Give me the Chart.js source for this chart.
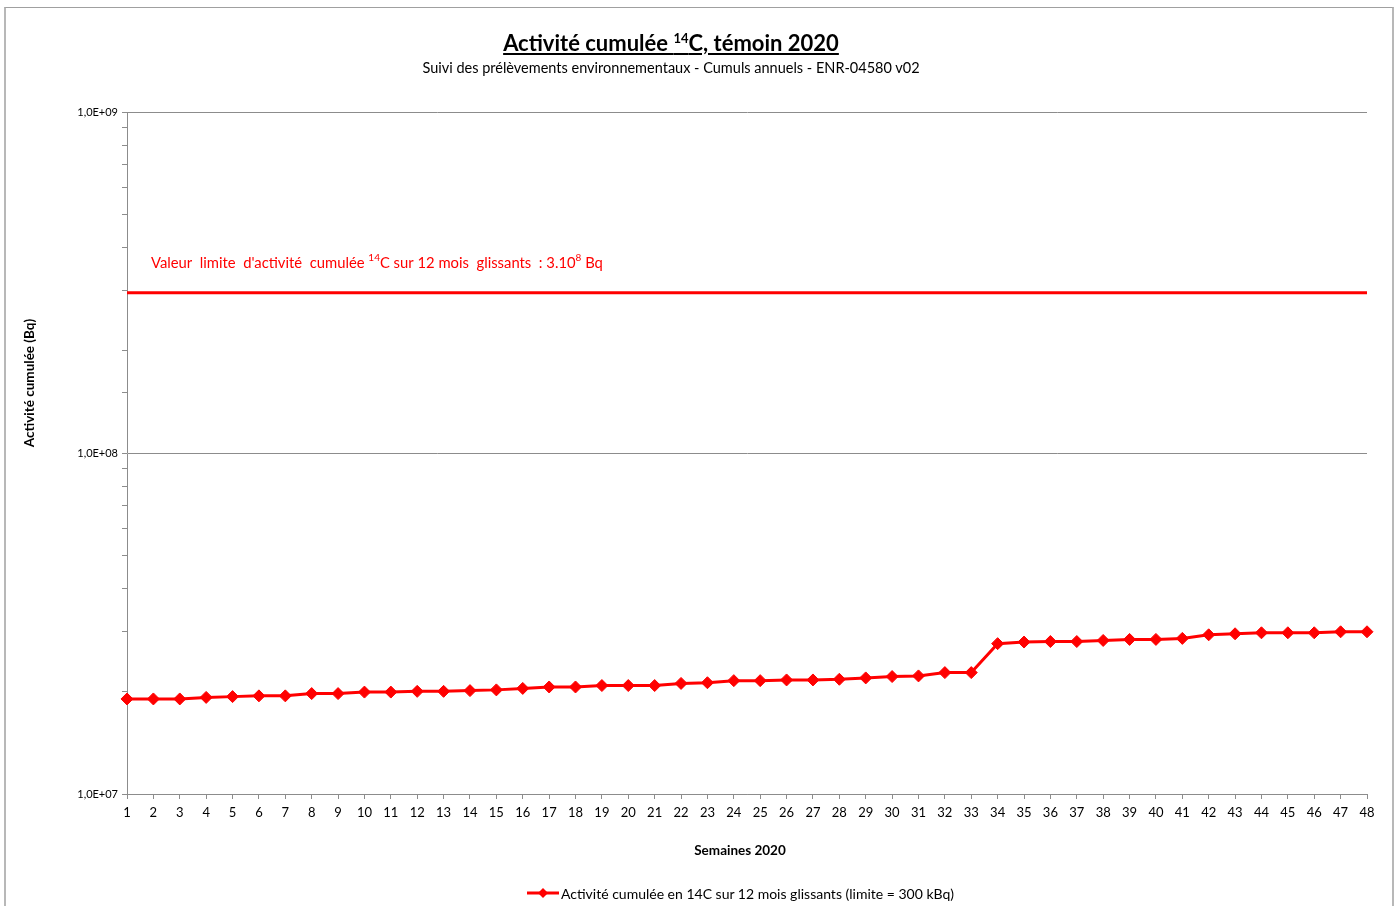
<!DOCTYPE html>
<html>
<head>
<meta charset="utf-8">
<script src="https://cdn.jsdelivr.net/npm/chart.js@4/dist/chart.umd.min.js"></script>
<style>
    html, body { margin: 0; padding: 0; background: #fff; }
    body { width: 1398px; height: 906px; position: relative; overflow: hidden; font-family: Lato, 'Open Sans', sans-serif; }
    #frame { position: absolute; left: 4px; top: 7px; width: 1386px; height: 920px;
             border-top: 1px solid #a0a0a0; border-left: 2px solid #b8b8b8; border-right: 2px solid #b8b8b8; }
    #title { position: absolute; left: 0; width: 1342px; top: 29px; text-align: center;
             font-weight: bold; font-size: 22px; text-decoration: underline; color: #000; }
    #title sup { font-size: 13px; vertical-align: 8px; line-height: 0; }
    #subtitle { position: absolute; left: 0; width: 1342px; top: 59px; text-align: center;
                font-size: 14.5px; color: #000; }
    #wrap { position: absolute; left: 0; top: 0; width: 1398px; height: 906px; }
    #legend { position: absolute; left: 527px; top: 884px; height: 18px; display: flex; align-items: center;
              font-size: 14px; color: #000; white-space: nowrap; }
    #legend canvas { margin-right: 2px; }
</style>
</head>
<body>
<div id="frame"></div>
<div id="wrap"><canvas id="chart" width="1398" height="906"></canvas></div>
<div id="title">Activité cumulée <sup>14</sup>C, témoin 2020</div>
<div id="subtitle">Suivi des prélèvements environnementaux - Cumuls annuels - ENR-04580 v02</div>
<div id="legend"><canvas id="legend-icon" width="32" height="12"></canvas><span id="legend-text"></span></div>
<script>
// Weeks of 2020
const weeks = ['1','2','3','4','5','6','7','8','9','10','11','12','13','14','15','16',
    '17','18','19','20','21','22','23','24','25','26','27','28','29','30','31','32',
    '33','34','35','36','37','38','39','40','41','42','43','44','45','46','47','48'];

// Cumulative 14C activity over 12 rolling months (Bq)
const activity = [1.90e7, 1.90e7, 1.90e7, 1.92e7, 1.93e7, 1.94e7, 1.94e7, 1.97e7,
    1.97e7, 1.99e7, 1.99e7, 2.00e7, 2.00e7, 2.01e7, 2.02e7, 2.04e7,
    2.06e7, 2.06e7, 2.08e7, 2.08e7, 2.08e7, 2.11e7, 2.12e7, 2.15e7,
    2.15e7, 2.16e7, 2.16e7, 2.17e7, 2.19e7, 2.21e7, 2.22e7, 2.27e7,
    2.27e7, 2.76e7, 2.79e7, 2.80e7, 2.80e7, 2.82e7, 2.84e7, 2.84e7,
    2.86e7, 2.93e7, 2.95e7, 2.97e7, 2.97e7, 2.97e7, 2.99e7, 2.99e7];

// Limit line (3.10^8 Bq)
const limitValues = weeks.map(() => 2.95e8);

const yTicks = [1e7, 1e8, 1e9];
const yTickLabels = ['1,0E+07', '1,0E+08', '1,0E+09'];

const seriesLabel = 'Activité cumulée en 14C sur 12 mois glissants (limite = 300 kBq)';
const xTitle = 'Semaines 2020';
const yTitle = 'Activité cumulée (Bq)';

const RED = '#ff0000';
const AXIS_GREY = '#8c8c8c';
const FONT = 'Lato';

// Legend: line with a diamond, then the series name
function drawLegend() {
    const g = document.getElementById('legend-icon').getContext('2d');
    g.strokeStyle = RED;
    g.lineWidth = 3;
    g.beginPath(); g.moveTo(0, 6); g.lineTo(32, 6); g.stroke();
    g.fillStyle = RED;
    g.beginPath(); g.moveTo(16, 1); g.lineTo(21, 6); g.lineTo(16, 11); g.lineTo(11, 6); g.closePath(); g.fill();
    document.getElementById('legend-text').textContent = seriesLabel;
}
drawLegend();

// Red label above the limit line + axis titles
const extraText = {
    id: 'extraText',
    afterDatasetsDraw(chart) {
        const { ctx, chartArea, scales } = chart;
        const y = scales.y.getPixelForValue(limitValues[0]) - 30;
        let x = chartArea.left + 24;
        ctx.save();
        ctx.fillStyle = RED;
        ctx.textBaseline = 'middle';
        const big = '14.8px ' + FONT, small = '10px ' + FONT;
        const parts = [
            ["Valeur  limite  d'activité  cumulée ", big, 0],
            ['14', small, -5],
            ['C sur 12 mois  glissants  : 3.10', big, 0],
            ['8', small, -5],
            [' Bq', big, 0]
        ];
        parts.forEach(([txt, font, dy]) => {
            ctx.font = font;
            ctx.fillText(txt, x, y + dy);
            x += ctx.measureText(txt).width;
        });

        // axis titles
        ctx.fillStyle = '#000';
        ctx.font = 'bold 13.5px ' + FONT;
        ctx.textAlign = 'center';
        ctx.fillText(xTitle, 740, 851);
        ctx.translate(30, 383);
        ctx.rotate(-Math.PI / 2);
        ctx.fillText(yTitle, 0, 0);
        ctx.restore();
    }
};

const isDecade = v => Math.abs(Math.log10(v) - Math.round(Math.log10(v))) < 1e-9;

new Chart(document.getElementById('chart'), {
    type: 'line',
    data: {
        labels: weeks,
        datasets: [
            {
                label: seriesLabel,
                data: activity,
                borderColor: RED,
                backgroundColor: RED,
                borderWidth: 3,
                pointStyle: 'rectRot',
                pointRadius: 6,
                pointBorderWidth: 1,
                tension: 0
            },
            {
                label: 'limite',
                data: limitValues,
                borderColor: RED,
                borderWidth: 3,
                pointRadius: 0,
                tension: 0
            }
        ]
    },
    options: {
        responsive: false,
        animation: false,
        devicePixelRatio: 1,
        layout: { padding: { left: 18, right: 31, top: 112, bottom: 0 } },
        plugins: {
            title: { display: false },
            tooltip: { enabled: false },
            legend: { display: false }
        },
        scales: {
            x: {
                type: 'category',
                offset: false,
                border: { color: AXIS_GREY, width: 1 },
                grid: { drawOnChartArea: false, tickLength: 5, tickColor: AXIS_GREY },
                ticks: { color: '#000', font: { family: FONT, size: 13 }, padding: 6,
                         maxRotation: 0, autoSkip: false },
                afterFit: s => { s.height = 112; }
            },
            y: {
                type: 'logarithmic',
                min: 1e7,
                max: 1e9,
                border: { color: AXIS_GREY, width: 1 },
                grid: {
                    color: c => isDecade(c.tick.value) ? AXIS_GREY : 'rgba(0,0,0,0)',
                    tickColor: AXIS_GREY,
                    tickLength: 5
                },
                ticks: {
                    autoSkip: false,
                    color: '#000',
                    padding: 4,
                    font: { family: FONT, size: 11 },
                    callback: v => {
                        const i = yTicks.findIndex(t => Math.abs(t - v) / t < 1e-9);
                        return i >= 0 ? yTickLabels[i] : '';
                    }
                },
                afterFit: s => { s.width = 109; }
            }
        }
    },
    plugins: [extraText]
});
</script>
</body>
</html>
